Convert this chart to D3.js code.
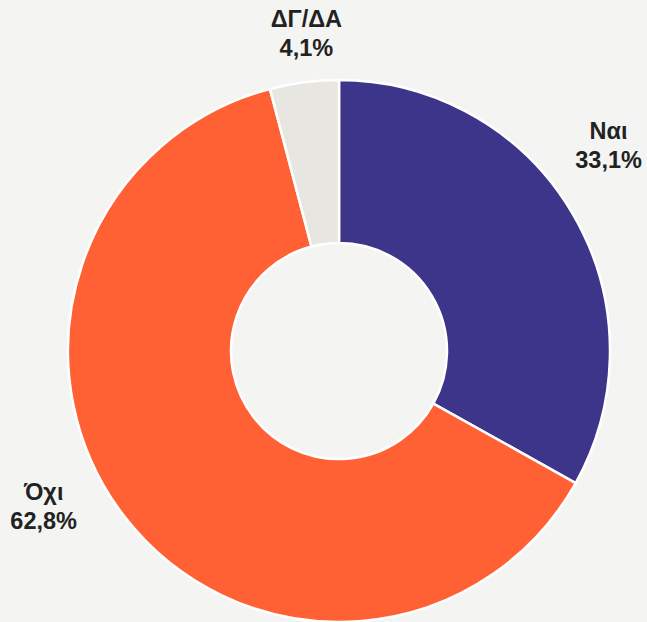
<!DOCTYPE html>
<html>
<head>
<meta charset="utf-8">
<script src="https://cdn.jsdelivr.net/npm/d3@7"></script>
<style>
  body { margin: 0; background: #f4f4f2; }
  svg { display: block; }
</style>
</head>
<body>
<svg id="chart" width="647" height="622"></svg>
<script>
var categories = ["Ναι", "Όχι", "ΔΓ/ΔΑ"];
var values = [33.1, 62.8, 4.1];
var valueLabels = ["33,1%", "62,8%", "4,1%"];
var colors = ["#3d3589", "#ff6034", "#e8e6e0"];

var width = 647, height = 622;
var cx = 339, cy = 351;
var outerR = 271, innerR = 108;

var svg = d3.select("#chart");
svg.append("rect").attr("width", width).attr("height", height).attr("fill", "#f4f4f2");

var g = svg.append("g").attr("transform", "translate(" + cx + "," + cy + ")");

var pie = d3.pie().sort(null).value(function (d) { return d; });
var arcs = pie(values);

var arc = d3.arc().innerRadius(innerR).outerRadius(outerR);

g.selectAll("path")
    .data(arcs)
    .enter()
    .append("path")
    .attr("d", arc)
    .attr("fill", function (d, i) { return colors[i]; })
    .attr("stroke", "#ffffff")
    .attr("stroke-width", 2.5)
    .attr("stroke-linejoin", "round");

// label placement: radius and small angle nudge per slice (degrees)
var labelR = [335, 337, 313];
var labelShift = [-6, 9, 1.4];

var lab = g.selectAll("g.lbl")
    .data(arcs)
    .enter()
    .append("g")
    .attr("class", "lbl")
    .attr("transform", function (d, i) {
        var a = (d.startAngle + d.endAngle) / 2 + labelShift[i] * Math.PI / 180;
        var x = labelR[i] * Math.sin(a);
        var y = -labelR[i] * Math.cos(a);
        return "translate(" + x + "," + y + ")";
    });

lab.append("text")
    .text(function (d, i) { return categories[i]; })
    .attr("y", -13)
    .attr("text-anchor", "middle")
    .style("font-family", "'Liberation Sans', Arial, sans-serif")
    .style("font-weight", "bold")
    .style("font-size", "23.5px")
    .attr("fill", "#222222");

lab.append("text")
    .text(function (d, i) { return valueLabels[i]; })
    .attr("y", 16)
    .attr("text-anchor", "middle")
    .style("font-family", "'Liberation Sans', Arial, sans-serif")
    .style("font-weight", "bold")
    .style("font-size", "23.5px")
    .attr("fill", "#222222");
</script>
</body>
</html>
